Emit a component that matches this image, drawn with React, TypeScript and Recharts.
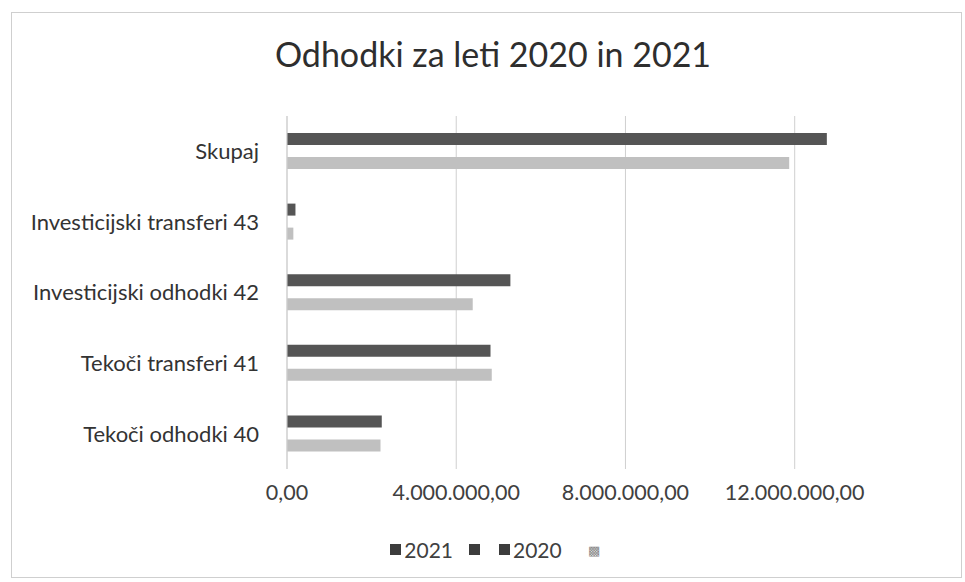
import { BarChart, Bar, XAxis, YAxis, CartesianGrid, Legend } from "recharts";

const categories = [
  "Skupaj",
  "Investicijski transferi 43",
  "Investicijski odhodki 42",
  "Tekoči transferi 41",
  "Tekoči odhodki 40",
];
const values2021 = [12760000, 200000, 5280000, 4810000, 2240000];
const values2020 = [11870000, 150000, 4390000, 4840000, 2210000];
const xTicks = [0, 4000000, 8000000, 12000000];

const data = categories.map((name, i) => ({ name, y2021: values2021[i], y2020: values2020[i] }));

const font = "Lato, 'Open Sans', sans-serif";

function fmt(v: number) {
  const [int, dec] = v.toFixed(2).split(".");
  return int.replace(/\B(?=(\d{3})+(?!\d))/g, ".") + "," + dec;
}

function LegendBox() {
  const sq = (c: string) => (
    <span style={{ display: "inline-block", width: 11, height: 11, background: c, marginRight: 3 }} />
  );
  return (
    <div style={{ fontFamily: font, fontSize: 21, color: "#404040", display: "flex", justifyContent: "center", alignItems: "center", gap: 16 }}>
      <span style={{ display: "flex", alignItems: "center" }}>{sq("#3c3c3c")}2021</span>
      <span style={{ display: "flex", alignItems: "center" }}>{sq("#3c3c3c")}</span>
      <span style={{ display: "flex", alignItems: "center" }}>{sq("#3c3c3c")}2020</span>
      <span style={{ fontSize: 13, color: "#888", marginLeft: 10 }}>▩</span>
    </div>
  );
}

export default function App() {
  return (
    <div style={{ position: "absolute", left: 0, top: 0, width: 965, height: 582, background: "#fff" }}>
      <style>{"body{margin:0}"}</style>
      <div style={{ position: "absolute", left: 11, top: 12, width: 951, height: 566, border: "1px solid #cfcfcf", boxSizing: "border-box" }} />
      <div style={{ position: "absolute", left: 0, top: 33, width: 986, textAlign: "center", fontFamily: font, fontSize: 34, color: "#2e2e2e" }}>
        Odhodki za leti 2020 in 2021
      </div>
      <div style={{ position: "absolute", left: 0, top: 0 }}>
        <BarChart
          width={965}
          height={582}
          data={data}
          layout="vertical"
          margin={{ top: 116, right: 128, bottom: 34, left: 0 }}
          barSize={12}
          barGap={12}
        >
          <CartesianGrid horizontal={false} stroke="#cfcfcf" verticalValues={xTicks} />
          <XAxis
            type="number"
            domain={[0, 13000000]}
            ticks={xTicks}
            tickFormatter={fmt}
            axisLine={false}
            tickLine={false}
            tick={{ fontFamily: font, fontSize: 21.5, fill: "#404040" }}
            tickMargin={10}
            height={54}
          />
          <YAxis
            type="category"
            dataKey="name"
            width={287}
            axisLine={{ stroke: "#cfcfcf" }}
            tickLine={false}
            tickMargin={22}
            tick={{ fontFamily: font, fontSize: 22, fill: "#333" }}
          />
          <Legend verticalAlign="bottom" content={() => <LegendBox />} wrapperStyle={{ bottom: 20, left: 0, width: 990 }} />
          <Bar dataKey="y2021" name="2021" fill="#555555" isAnimationActive={false} />
          <Bar dataKey="y2020" name="2020" fill="#c0c0c0" isAnimationActive={false} />
        </BarChart>
      </div>
    </div>
  );
}
